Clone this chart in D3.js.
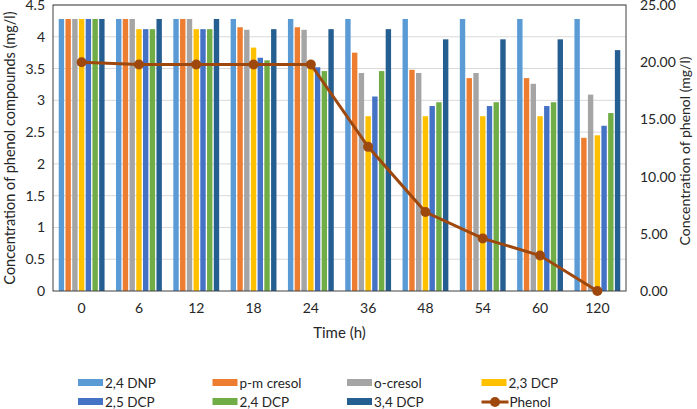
<!DOCTYPE html>
<html>
<head>
<meta charset="utf-8">
<script src="https://cdn.jsdelivr.net/npm/d3@7"></script>
<style>
  body { margin: 0; background: #fff; }
  text { font-family: Lato, "Open Sans", sans-serif; fill: #262626; }
</style>
</head>
<body>
<svg></svg>
<script>
//chart size
const width = 697;
const height = 409;

//data
const times = ["0", "6", "12", "18", "24", "36", "48", "54", "60", "120"];
const seriesNames = ["2,4 DNP", "p-m cresol", "o-cresol", "2,3 DCP", "2,5 DCP", "2,4 DCP", "3,4 DCP"];
const dnp24 = [4.28, 4.28, 4.28, 4.28, 4.28, 4.28, 4.28, 4.28, 4.28, 4.28];
const pmCresol = [4.28, 4.28, 4.28, 4.15, 4.15, 3.75, 3.48, 3.35, 3.35, 2.41];
const oCresol = [4.28, 4.28, 4.28, 4.11, 4.11, 3.43, 3.43, 3.43, 3.26, 3.09];
const dcp23 = [4.28, 4.12, 4.12, 3.83, 3.55, 2.75, 2.75, 2.75, 2.75, 2.45];
const dcp25 = [4.28, 4.12, 4.12, 3.67, 3.52, 3.06, 2.91, 2.91, 2.91, 2.60];
const dcp24 = [4.28, 4.12, 4.12, 3.63, 3.46, 3.46, 2.97, 2.97, 2.97, 2.80];
const dcp34 = [4.28, 4.28, 4.28, 4.12, 4.12, 4.12, 3.96, 3.96, 3.96, 3.79];
const phenol = [20.0, 19.8, 19.8, 19.8, 19.8, 12.6, 6.9, 4.6, 3.1, 0.0];
const leftTicks = [0, 0.5, 1, 1.5, 2, 2.5, 3, 3.5, 4, 4.5];
const rightTicks = [0, 5, 10, 15, 20, 25];

const barSeries = [dnp24, pmCresol, oCresol, dcp23, dcp25, dcp24, dcp34];
const colors = ["#5B9BD5", "#ED7D31", "#A5A5A5", "#FFC000", "#4472C4", "#70AD47", "#255E91"];
const lineColor = "#9E480E";

const margin = {top: 5, right: 71, bottom: 118, left: 53};
const plotW = width - margin.left - margin.right;
const plotH = height - margin.top - margin.bottom;

const svg = d3.select("svg")
  .attr("width", width)
  .attr("height", height);

const g = svg.append("g")
  .attr("transform", `translate(${margin.left},${margin.top})`);

//scales
const x0 = d3.scaleBand()
  .domain(times)
  .range([0, plotW])
  .paddingInner(0.2)
  .paddingOuter(0.1);

const x1 = d3.scaleBand()
  .domain(seriesNames)
  .range([0, x0.bandwidth()])
  .paddingInner(0.2);

const yLeft = d3.scaleLinear().domain([0, 4.5]).range([plotH, 0]);
const yRight = d3.scaleLinear().domain([0, 25]).range([plotH, 0]);

//gridlines
g.selectAll("line.grid")
  .data(leftTicks.slice(1))
  .enter().append("line")
  .attr("class", "grid")
  .attr("x1", 0)
  .attr("x2", plotW)
  .attr("y1", d => yLeft(d))
  .attr("y2", d => yLeft(d))
  .attr("stroke", "#D9D9D9")
  .attr("stroke-width", 1);

//bars
const groups = g.selectAll("g.grp")
  .data(times)
  .enter().append("g")
  .attr("class", "grp")
  .attr("transform", d => `translate(${x0(d)},0)`);

groups.selectAll("rect")
  .data((t, i) => seriesNames.map((s, j) => ({s: s, v: barSeries[j][i], c: colors[j]})))
  .enter().append("rect")
  .attr("x", d => x1(d.s))
  .attr("width", x1.bandwidth())
  .attr("y", d => yLeft(d.v))
  .attr("height", d => plotH - yLeft(d.v))
  .attr("fill", d => d.c);

//plot border
g.append("rect")
  .attr("width", plotW)
  .attr("height", plotH)
  .attr("fill", "none")
  .attr("stroke", "#404040")
  .attr("stroke-width", 1);

//phenol line
const line = d3.line()
  .x((d, i) => x0(times[i]) + x0.bandwidth() / 2)
  .y(d => yRight(d));

g.append("path")
  .datum(phenol)
  .attr("d", line)
  .attr("fill", "none")
  .attr("stroke", lineColor)
  .attr("stroke-width", 3);

g.selectAll("circle.pt")
  .data(phenol)
  .enter().append("circle")
  .attr("class", "pt")
  .attr("cx", (d, i) => x0(times[i]) + x0.bandwidth() / 2)
  .attr("cy", d => yRight(d))
  .attr("r", 5)
  .attr("fill", lineColor);

//axes
const leftAxis = g.append("g")
  .call(d3.axisLeft(yLeft).tickValues(leftTicks).tickSize(0).tickPadding(8).tickFormat(d3.format("")));
const rightAxis = g.append("g")
  .attr("transform", `translate(${plotW},0)`)
  .call(d3.axisRight(yRight).tickValues(rightTicks).tickSize(0).tickPadding(14).tickFormat(d3.format(".2f")));
const bottomAxis = g.append("g")
  .attr("transform", `translate(0,${plotH})`)
  .call(d3.axisBottom(x0).tickSize(0).tickPadding(12));

[leftAxis, rightAxis, bottomAxis].forEach(a => {
  a.select(".domain").remove();
  a.selectAll("text")
    .style("font-family", "Lato, 'Open Sans', sans-serif")
    .style("font-size", "14px")
    .attr("fill", "#262626");
});

//axis titles
svg.append("text")
  .attr("transform", `translate(15,${margin.top + plotH / 2}) rotate(-90)`)
  .attr("text-anchor", "middle")
  .style("font-size", "14.5px")
  .text("Concentration of phenol compounds (mg/l)");

svg.append("text")
  .attr("transform", `translate(690,${margin.top + plotH / 2 + 3}) rotate(-90)`)
  .attr("text-anchor", "middle")
  .style("font-size", "14px")
  .text("Concentration of phenol (mg/l)");

svg.append("text")
  .attr("x", margin.left + plotW / 2)
  .attr("y", 338)
  .attr("text-anchor", "middle")
  .style("font-size", "15px")
  .text("Time (h)");

//legend
const legendItems = seriesNames.map((s, j) => ({name: s, color: colors[j], line: false}))
  .concat([{name: "Phenol", color: lineColor, line: true}]);

const legend = svg.append("g");
const li = legend.selectAll("g")
  .data(legendItems)
  .enter().append("g")
  .attr("transform", (d, i) => `translate(${78 + (i % 4) * 134.5},${i < 4 ? 383 : 402})`);

li.filter(d => !d.line).append("rect")
  .attr("x", 0)
  .attr("y", -4)
  .attr("width", 25)
  .attr("height", 7)
  .attr("fill", d => d.color);

li.filter(d => d.line).append("line")
  .attr("x1", 0).attr("x2", 27)
  .attr("y1", 0).attr("y2", 0)
  .attr("stroke", d => d.color)
  .attr("stroke-width", 3);

li.filter(d => d.line).append("circle")
  .attr("cx", 13.5).attr("cy", 0).attr("r", 5)
  .attr("fill", d => d.color);

li.append("text")
  .attr("x", d => d.line ? 28 : 27)
  .attr("y", 0)
  .attr("dy", "0.35em")
  .style("font-size", "13.5px")
  .text(d => d.name);
</script>
</body>
</html>
